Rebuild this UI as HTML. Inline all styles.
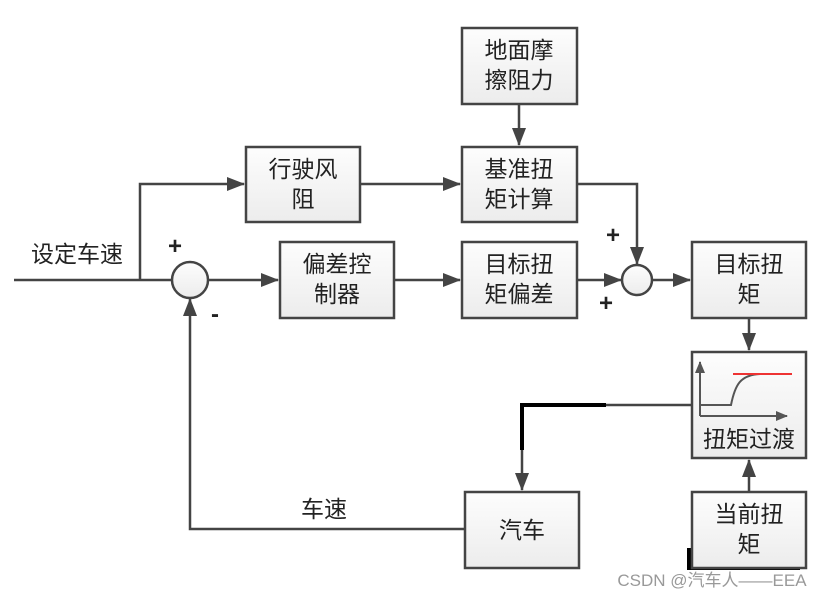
<!DOCTYPE html>
<html><head><meta charset="utf-8"><style>
html,body{margin:0;padding:0;background:#fff;}
svg{display:block;}
text{font-family:"Liberation Sans","Noto Sans CJK SC",sans-serif;fill:#222;}
</style></head><body>
<svg width="828" height="599" viewBox="0 0 828 599" xmlns="http://www.w3.org/2000/svg">
<defs>
<linearGradient id="g" x1="0" y1="0" x2="0" y2="1"><stop offset="0" stop-color="#fdfdfd"/><stop offset="1" stop-color="#ececec"/></linearGradient>
<marker id="a" markerWidth="18" markerHeight="14" refX="17" refY="7" orient="auto" markerUnits="userSpaceOnUse"><path d="M0,0 L18,7 L0,14 z" fill="#444"/></marker>
<marker id="s" markerWidth="12" markerHeight="10" refX="11" refY="5" orient="auto" markerUnits="userSpaceOnUse"><path d="M0,0 L12,5 L0,10 z" fill="#555"/></marker>
</defs>
<g fill="none" stroke="#444" stroke-width="2.5">
<line x1="14" y1="280" x2="171" y2="280"/>
<polyline points="140,280 140,184 244,184" marker-end="url(#a)"/>
<line x1="209" y1="280" x2="278" y2="280" marker-end="url(#a)"/>
<line x1="394" y1="280" x2="460" y2="280" marker-end="url(#a)"/>
<line x1="360" y1="184" x2="460" y2="184" marker-end="url(#a)"/>
<line x1="519" y1="104" x2="519" y2="145" marker-end="url(#a)"/>
<line x1="577" y1="280" x2="621" y2="280" marker-end="url(#a)"/>
<polyline points="577,184 637,184 637,264" marker-end="url(#a)"/>
<line x1="653" y1="280" x2="690" y2="280" marker-end="url(#a)"/>
<line x1="749" y1="318" x2="749" y2="350" marker-end="url(#a)"/>
<line x1="749" y1="492" x2="749" y2="460" marker-end="url(#a)"/>
<polyline points="692,405 522,405 522,490" marker-end="url(#a)"/>
<polyline points="464,529 190,529 190,299" marker-end="url(#a)"/>
</g>
<g stroke="#000" stroke-width="4" fill="none">
<polyline points="606,405 522,405 522,450"/>
<polyline points="689,548 689,568 800,568"/>
</g>
<circle cx="190" cy="280" r="18" fill="url(#g)" stroke="#444" stroke-width="2.5"/>
<circle cx="637" cy="280" r="15" fill="url(#g)" stroke="#444" stroke-width="2.5"/>
<g fill="url(#g)" stroke="#444" stroke-width="2.5">
<rect x="462" y="28" width="115" height="76"/>
<rect x="246" y="147" width="114" height="75"/>
<rect x="462" y="147" width="115" height="75"/>
<rect x="280" y="242" width="114" height="76"/>
<rect x="462" y="242" width="115" height="76"/>
<rect x="692" y="242" width="114" height="76"/>
<rect x="692" y="352" width="114" height="106"/>
<rect x="692" y="492" width="114" height="76"/>
<rect x="465" y="492" width="114" height="76"/>
</g>
<g fill="none" stroke="#555" stroke-width="2">
<line x1="700" y1="416" x2="787" y2="416" marker-end="url(#s)"/>
<line x1="700" y1="416" x2="700" y2="362" marker-end="url(#s)"/>
<path d="M700,405 L731,405 C735,385 740,375 760,374"/>
</g>
<line x1="733" y1="374" x2="792" y2="374" stroke="#e33" stroke-width="2"/>
<g font-size="23" text-anchor="middle">
<text x="519" y="58">地面摩</text><text x="519" y="88">擦阻力</text>
<text x="303" y="177">行驶风</text><text x="303" y="207">阻</text>
<text x="519" y="177">基准扭</text><text x="519" y="207">矩计算</text>
<text x="337" y="272">偏差控</text><text x="337" y="302">制器</text>
<text x="519" y="272">目标扭</text><text x="519" y="302">矩偏差</text>
<text x="749" y="272">目标扭</text><text x="749" y="302">矩</text>
<text x="749" y="447">扭矩过渡</text>
<text x="749" y="522">当前扭</text><text x="749" y="552">矩</text>
<text x="522" y="538">汽车</text>
<text x="77" y="262">设定车速</text>
<text x="324" y="517">车速</text>
</g>
<g font-size="24" font-weight="bold" text-anchor="middle">
<text x="175" y="254">+</text>
<text x="215" y="322">-</text>
<text x="613" y="243">+</text>
<text x="606" y="311">+</text>
</g>
<text x="712" y="586" font-size="17" text-anchor="middle" style="fill:#999">CSDN @汽车人——EEA</text>
</svg>
</body></html>
